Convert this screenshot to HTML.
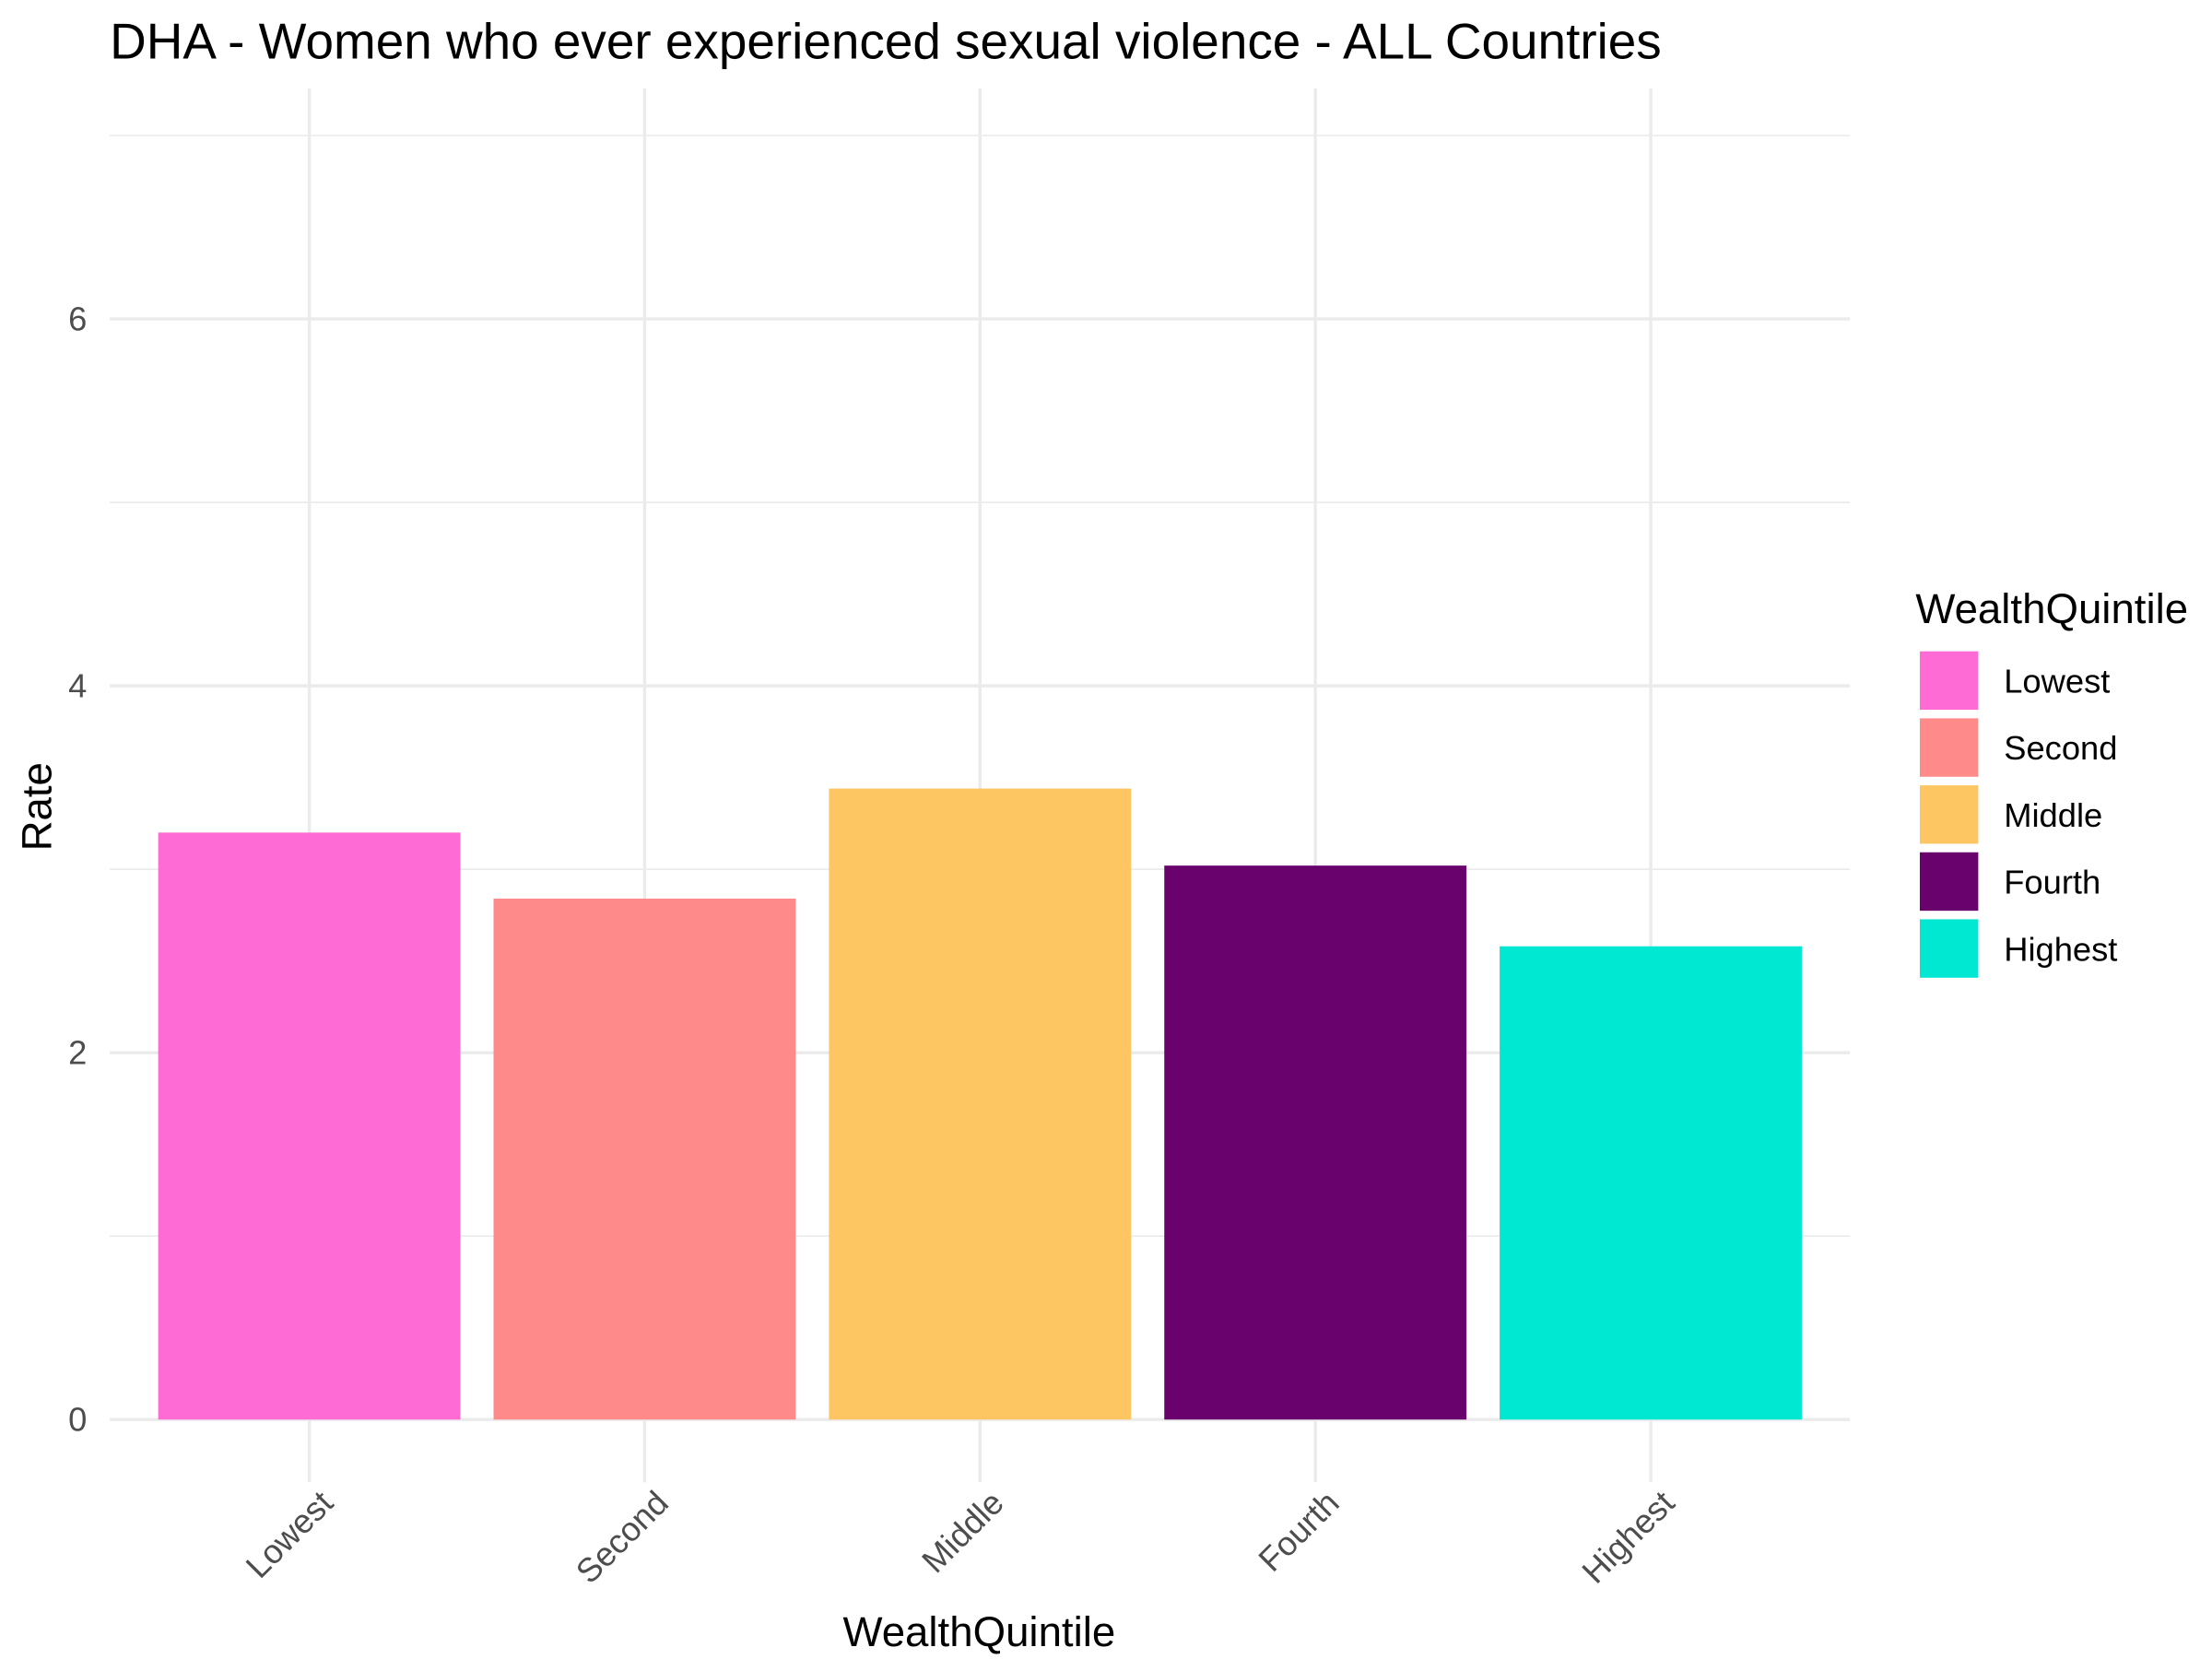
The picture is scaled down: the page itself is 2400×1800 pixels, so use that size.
<!DOCTYPE html>
<html><head><meta charset="utf-8"><style>
html,body{margin:0;padding:0;background:#fff;}
svg{display:block;font-family:"Liberation Sans",Arial,sans-serif;}
</style></head><body>
<svg id="chart" width="2400" height="1800" viewBox="0 0 1552 1164" xmlns="http://www.w3.org/2000/svg">
<rect width="1552" height="1164" fill="#fff"/>
<text x="77" y="41" font-size="35.5" fill="#000">DHA - Women who ever experienced sexual violence - ALL Countries</text>
<g id="grid"></g>
<g id="bars"></g>
<g id="yticks"></g>
<g id="xticks"></g>
<text transform="translate(36,566) rotate(-90)" text-anchor="middle" font-size="29.5" fill="#000">Rate</text>
<text x="687" y="1155" text-anchor="middle" font-size="29.5" fill="#000">WealthQuintile</text>
<g id="legend">
<text x="1344" y="437" font-size="29.5" fill="#000">WealthQuintile</text>
</g>
</svg>
<script>
const categories = ["Lowest","Second","Middle","Fourth","Highest"];
const values = [3.20, 2.84, 3.44, 3.02, 2.58];
const colors = ["#FF6BD5","#FF8A8A","#FDC663","#6A026D","#00E8D2"];
const yTicks = [0,2,4,6];
const yMinor = [1,3,5,7];

const NS="http://www.w3.org/2000/svg";
const px0=77, px1=1298;
const y=v=>996-v*128.7;
const x=i=>217+i*235.3;
const bw=212;
function mk(tag,attrs,parent,text){const e=document.createElementNS(NS,tag);for(const k in attrs)e.setAttribute(k,attrs[k]);if(text!==undefined)e.textContent=text;parent.appendChild(e);return e;}
const grid=document.getElementById('grid'),bars=document.getElementById('bars'),yt=document.getElementById('yticks'),xt=document.getElementById('xticks'),lg=document.getElementById('legend');
yMinor.forEach(v=>{const l=mk('line',{x1:px0,x2:px1,y1:y(v),y2:y(v),stroke:'#ebebeb','stroke-width':1.1},grid);

});
yTicks.forEach(v=>{const l=mk('line',{x1:px0,x2:px1,y1:y(v),y2:y(v),stroke:'#ebebeb','stroke-width':2.2},grid);


const t=mk('text',{x:61,y:y(v)+8,'text-anchor':'end','font-size':23.5,fill:'#4d4d4d'},yt,String(v));

});
categories.forEach((c,i)=>{const l=mk('line',{x1:x(i),x2:x(i),y1:62,y2:1040,stroke:'#ebebeb','stroke-width':2.2},grid);


const r=mk('rect',{x:x(i)-bw/2,y:y(values[i]),width:bw,height:y(0)-y(values[i]),fill:colors[i]},bars);


const t=mk('text',{transform:`translate(${x(i)+18},${1056}) rotate(-45)`,'text-anchor':'end','font-size':23.5,fill:'#4d4d4d'},xt,c);


const k=mk('rect',{x:1347,y:457+i*47,width:41,height:41,fill:colors[i]},lg);


const lt=mk('text',{x:1406,y:486+i*47,'font-size':23.5,fill:'#000'},lg,c);

});
</script>
</body></html>
